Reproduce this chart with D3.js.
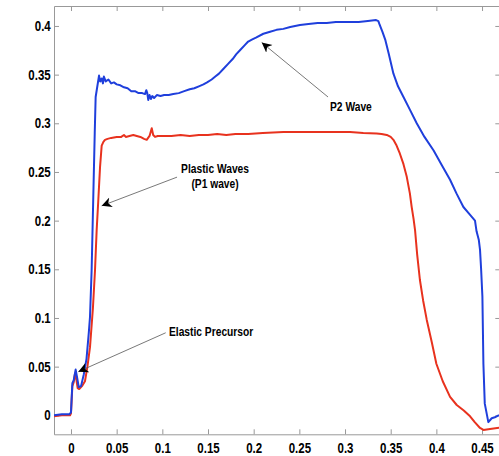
<!DOCTYPE html>
<meta charset="utf-8">
<script src="https://d3js.org/d3.v7.min.js"></script>
<style>
  body { margin: 0; background: #fff; }
  #chart text { font-family: "Liberation Sans", Arial, sans-serif; font-weight: bold; }
</style>
<div id="chart"></div>
<script>
// tick values
var xTicks = [0, 0.05, 0.1, 0.15, 0.2, 0.25, 0.3, 0.35, 0.4, 0.45];
var yTicks = [0, 0.05, 0.1, 0.15, 0.2, 0.25, 0.3, 0.35, 0.4];

// blue trace (P2)
var blueT = [-0.0186, -0.010, -0.002, 0.000, 0.0015, 0.003, 0.0051, 0.0065, 0.0085, 0.011, 0.014, 0.017, 0.0195, 0.0208, 0.0226, 0.0244, 0.026, 0.027, 0.0285, 0.0307, 0.032, 0.0336, 0.035, 0.036, 0.038, 0.041, 0.044, 0.047, 0.050, 0.054, 0.058, 0.062, 0.066, 0.070, 0.074, 0.078, 0.081, 0.0825, 0.0835, 0.0846, 0.086, 0.0875, 0.089, 0.091, 0.094, 0.098, 0.102, 0.107, 0.112, 0.118, 0.124, 0.130, 0.135, 0.140, 0.145, 0.149, 0.154, 0.158, 0.162, 0.167, 0.172, 0.177, 0.181, 0.185, 0.190, 0.194, 0.198, 0.2025, 0.2106, 0.218, 0.225, 0.2325, 0.240, 0.2507, 0.260, 0.270, 0.280, 0.290, 0.3055, 0.315, 0.325, 0.334, 0.3365, 0.338, 0.341, 0.344, 0.348, 0.353, 0.358, 0.364, 0.371, 0.3785, 0.387, 0.397, 0.406, 0.415, 0.422, 0.4296, 0.436, 0.4423, 0.444, 0.4465, 0.4478, 0.449, 0.4504, 0.4515, 0.453, 0.4569, 0.4606, 0.464, 0.4686];
var blueV = [0.000, 0.001, 0.001, 0.003, 0.033, 0.036, 0.047, 0.040, 0.029, 0.030, 0.042, 0.058, 0.085, 0.101, 0.149, 0.224, 0.290, 0.327, 0.336, 0.349, 0.343, 0.346, 0.341, 0.348, 0.343, 0.345, 0.341, 0.342, 0.340, 0.339, 0.337, 0.336, 0.333, 0.333, 0.331, 0.331, 0.330, 0.334, 0.331, 0.324, 0.329, 0.325, 0.328, 0.326, 0.329, 0.328, 0.329, 0.329, 0.330, 0.331, 0.333, 0.335, 0.336, 0.338, 0.340, 0.342, 0.345, 0.348, 0.351, 0.356, 0.361, 0.366, 0.371, 0.375, 0.380, 0.384, 0.386, 0.388, 0.392, 0.394, 0.396, 0.397, 0.399, 0.401, 0.402, 0.403, 0.403, 0.404, 0.404, 0.404, 0.405, 0.406, 0.405, 0.401, 0.394, 0.386, 0.371, 0.351, 0.338, 0.327, 0.314, 0.300, 0.286, 0.272, 0.257, 0.242, 0.228, 0.214, 0.207, 0.200, 0.189, 0.180, 0.170, 0.150, 0.122, 0.053, 0.012, -0.007, -0.003, -0.002, 0.0003];

// red trace (P1)
var redT = [-0.0186, -0.010, -0.001, 0.000, 0.0015, 0.003, 0.0044, 0.006, 0.0073, 0.009, 0.012, 0.0153, 0.018, 0.0208, 0.024, 0.0263, 0.0281, 0.0299, 0.0318, 0.0336, 0.0355, 0.0372, 0.040, 0.044, 0.050, 0.055, 0.058, 0.060, 0.064, 0.0682, 0.072, 0.076, 0.080, 0.0829, 0.086, 0.0884, 0.090, 0.092, 0.095, 0.100, 0.110, 0.120, 0.130, 0.140, 0.150, 0.160, 0.170, 0.180, 0.194, 0.210, 0.2325, 0.260, 0.280, 0.3055, 0.320, 0.3347, 0.340, 0.3457, 0.350, 0.353, 0.356, 0.360, 0.364, 0.3676, 0.371, 0.373, 0.375, 0.3767, 0.379, 0.382, 0.3855, 0.3895, 0.395, 0.400, 0.407, 0.415, 0.4223, 0.430, 0.4369, 0.442, 0.4478, 0.4515, 0.4588, 0.4686];
var redV = [-0.001, 0.000, 0.000, 0.002, 0.030, 0.034, 0.043, 0.036, 0.028, 0.027, 0.030, 0.035, 0.050, 0.070, 0.110, 0.149, 0.190, 0.221, 0.255, 0.277, 0.281, 0.283, 0.284, 0.285, 0.286, 0.286, 0.288, 0.286, 0.287, 0.288, 0.287, 0.286, 0.284, 0.283, 0.287, 0.295, 0.288, 0.286, 0.287, 0.287, 0.287, 0.288, 0.287, 0.288, 0.288, 0.289, 0.288, 0.289, 0.289, 0.290, 0.291, 0.291, 0.291, 0.291, 0.290, 0.2895, 0.289, 0.288, 0.286, 0.283, 0.278, 0.269, 0.258, 0.245, 0.228, 0.214, 0.202, 0.190, 0.165, 0.139, 0.118, 0.098, 0.075, 0.053, 0.035, 0.019, 0.0106, 0.005, -0.001, -0.007, -0.013, -0.015, -0.014, -0.0127];

// annotations: text lines, text anchor point, arrow start, arrow tip (data units)
var noteText = [["P2 Wave"], ["Plastic Waves", "(P1 wave)"], ["Elastic Precursor"]];
var noteAnchor = ["start", "middle", "start"];
var notePos = [[0.2836, 0.313], [0.1577, 0.2493], [0.1073, 0.0814]];
var noteFrom = [[0.2814, 0.327], [0.1161, 0.2447], [0.1037, 0.0848]];
var noteTo = [[0.2088, 0.383], [0.0336, 0.2152], [0.008, 0.0448]];

var W = 499, H = 456;
var squeeze = "scale(0.82,1)"; // no narrow font installed, fake it

var x = d3.scaleLinear().domain([-0.0186, 0.47]).range([54, 500.3]);
var y = d3.scaleLinear().domain([-0.0195, 0.4205]).range([434.3, 6]);

var svg = d3.select("#chart").append("svg")
    .attr("width", W)
    .attr("height", H);

svg.append("defs").append("marker")
    .attr("id", "head")
    .attr("markerUnits", "userSpaceOnUse")
    .attr("markerWidth", 12).attr("markerHeight", 12)
    .attr("refX", 10).attr("refY", 5)
    .attr("orient", "auto")
    .append("path")
    .attr("d", "M0,0 L10,5 L0,10 L3,5 Z")
    .attr("fill", "#000");

svg.append("clipPath").attr("id", "plot")
  .append("rect")
    .attr("x", 54).attr("y", 6)
    .attr("width", 447).attr("height", 428.3);

// axes, ticks pointing inward like matlab
var axisColor = "#999";
function styleAxis(g, showText) {
  g.select(".domain").attr("stroke", axisColor);
  g.selectAll(".tick line").attr("stroke", axisColor);
  g.selectAll(".tick text").attr("fill", "#000").style("font-size", "14px").attr("transform", squeeze);
  if (!showText) g.selectAll(".tick text").remove();
}

svg.append("g")
    .attr("transform", "translate(0,434.3)")
    .call(d3.axisBottom(x).tickValues(xTicks).tickSize(-5).tickPadding(9).tickSizeOuter(0)
      .tickFormat(function(d) { return d3.format("~g")(d); }))
    .call(styleAxis, true);

svg.append("g")
    .attr("transform", "translate(0,6)")
    .call(d3.axisTop(x).tickValues(xTicks).tickSize(-5).tickSizeOuter(0))
    .call(styleAxis, false);

svg.append("g")
    .attr("transform", "translate(54,0)")
    .call(d3.axisLeft(y).tickValues(yTicks).tickSize(-5).tickPadding(4).tickSizeOuter(0)
      .tickFormat(function(d) { return d3.format("~g")(d); }))
    .call(styleAxis, true);

svg.append("g")
    .attr("transform", "translate(500.3,0)")
    .call(d3.axisRight(y).tickValues(yTicks).tickSize(-5).tickSizeOuter(0))
    .call(styleAxis, false);

var line = d3.line()
    .x(function(d) { return x(d[0]); })
    .y(function(d) { return y(d[1]); });

var series = [
  { t: redT, v: redV, color: "#e8321e" },
  { t: blueT, v: blueV, color: "#1f3fdc" }
];

svg.append("g").attr("clip-path", "url(#plot)")
  .selectAll("path")
  .data(series)
  .enter().append("path")
    .attr("fill", "none")
    .attr("stroke", function(d) { return d.color; })
    .attr("stroke-width", 2)
    .attr("stroke-linejoin", "round")
    .attr("d", function(d) { return line(d.t.map(function(t, i) { return [t, d.v[i]]; })); });

// annotation arrows + text
var notes = svg.append("g");
noteText.forEach(function(lines, i) {
  notes.append("line")
      .attr("x1", x(noteFrom[i][0])).attr("y1", y(noteFrom[i][1]))
      .attr("x2", x(noteTo[i][0])).attr("y2", y(noteTo[i][1]))
      .attr("stroke", "#555")
      .attr("stroke-width", 0.8)
      .attr("marker-end", "url(#head)");
  var t = notes.append("g")
      .attr("transform", "translate(" + x(notePos[i][0]) + "," + y(notePos[i][1]) + ") " + squeeze)
    .append("text")
      .attr("text-anchor", noteAnchor[i])
      .style("font-size", "12.5px")
      .attr("fill", "#000");
  lines.forEach(function(s, j) {
    t.append("tspan")
      .attr("x", 0)
      .attr("dy", j === 0 ? 0 : 15.5)
      .text(s);
  });
});
</script>
